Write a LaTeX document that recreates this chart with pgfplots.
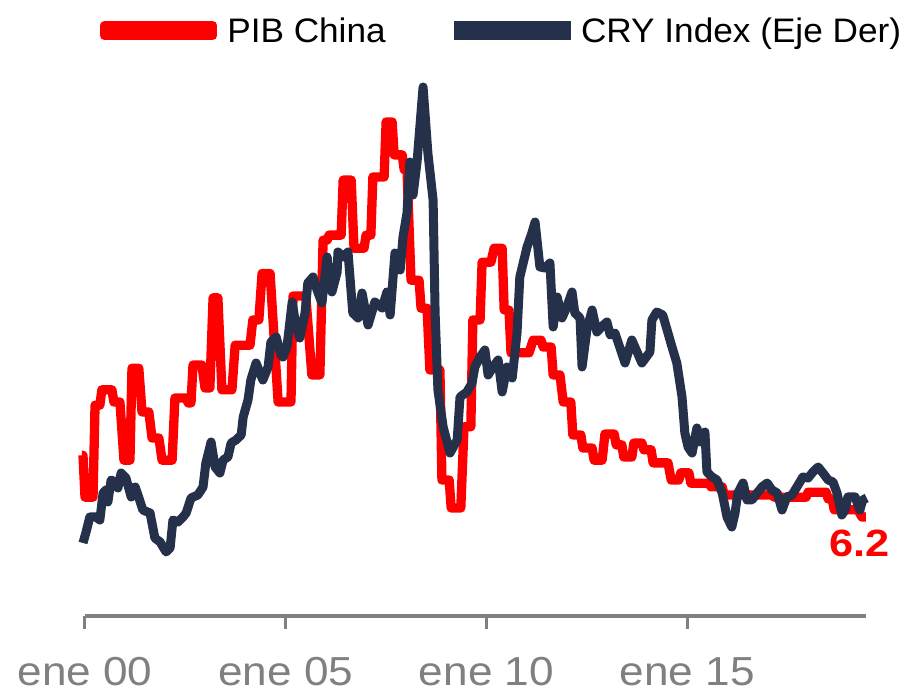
\documentclass[border=0pt]{standalone}
\usepackage{graphicx}
\usepackage{pgfplots}
\pgfplotsset{compat=1.18}
\usepackage{fontspec}
\setmainfont{Liberation Sans}
\definecolor{pibred}{RGB}{255,0,0}
\definecolor{crynavy}{RGB}{37,48,74}
\definecolor{axgray}{RGB}{128,128,128}
\newcommand{\tl}[1]{\scalebox{1.09}[1]{#1}}
\begin{document}
\begin{tikzpicture}
\useasboundingbox (-85pt,-78pt) rectangle (823pt,616pt);
\begin{axis}[
  at={(0pt,0pt)}, anchor=south west,
  scale only axis, width=781pt, height=536pt,
  xmin=2000, xmax=2019.452, ymin=4.005, ymax=15.89,
  clip=false,
  axis x line=bottom, axis y line=none,
  x axis line style={draw=axgray, line width=3.5pt, -},
  xtick={2000,2005,2010,2015},
  xticklabels={\tl{ene 00},\tl{ene 05},\tl{ene 10},\tl{ene 15}},
  xtick style={draw=axgray, line width=3pt},
  major tick length=13pt,
  xtick align=outside,
  xticklabel style={font=\fontsize{40.5}{48}\selectfont, text=axgray, inner sep=0pt, anchor=north, yshift=-28pt},
  ytick=\empty,
  legend columns=2,
  legend cell align=left,
  legend style={draw=none, fill=none, at={(0.0192,1.092)}, anchor=west, inner sep=0pt, outer sep=0pt,
    font=\fontsize{34}{41}\selectfont,
    nodes={inner sep=0pt},
    /tikz/every odd column/.append style={column sep=10pt},
    /tikz/every even column/.append style={column sep=68pt}},
  legend image code/.code={\path (0pt,-5pt) rectangle (108pt,5pt); \draw[#1, line cap=round] (4.65pt,0pt) -- (103.35pt,0pt);},
]
\addplot[pibred, line width=9.3pt, line join=round] coordinates {
(1999.925,7.57) (1999.95,7.57) (2000.00,6.64) (2000.20,6.64) (2000.25,8.68) (2000.37,8.68) (2000.42,9.02) (2000.67,9.02) (2000.72,8.75) (2000.87,8.75) (2000.97,7.46) (2001.12,7.46) (2001.17,9.50) (2001.34,9.50) (2001.42,8.53) (2001.59,8.53) (2001.67,7.95) (2001.84,7.95) (2001.92,7.46) (2002.17,7.46) (2002.24,8.84) (2002.52,8.84) (2002.57,8.73) (2002.64,8.73) (2002.69,9.57) (2002.91,9.57) (2002.99,9.06) (2003.11,9.06) (2003.19,11.06) (2003.31,11.06) (2003.41,9.02) (2003.66,9.02) (2003.74,10.01) (2004.11,10.01) (2004.18,10.57) (2004.33,10.57) (2004.41,11.60) (2004.61,11.60) (2004.81,8.75) (2005.13,8.75) (2005.18,11.10) (2005.50,11.10) (2005.65,9.35) (2005.85,9.35) (2005.93,12.34) (2006.03,12.34) (2006.08,12.45) (2006.38,12.45) (2006.43,13.67) (2006.63,13.67) (2006.70,12.16) (2006.95,12.16) (2007.00,12.45) (2007.12,12.45) (2007.17,13.74) (2007.45,13.74) (2007.50,14.96) (2007.65,14.96) (2007.70,14.23) (2007.90,14.23) (2007.95,13.90) (2008.02,13.90) (2008.12,11.45) (2008.32,11.45) (2008.37,10.83) (2008.52,10.83) (2008.59,9.46) (2008.84,9.46) (2008.89,7.02) (2009.07,7.02) (2009.12,6.40) (2009.36,6.40) (2009.44,8.20) (2009.61,8.20) (2009.66,10.57) (2009.84,10.57) (2009.89,11.85) (2010.11,11.85) (2010.19,12.16) (2010.39,12.16) (2010.44,10.79) (2010.56,10.79) (2010.61,9.84) (2011.06,9.84) (2011.16,10.12) (2011.36,10.12) (2011.41,9.97) (2011.61,9.97) (2011.66,9.35) (2011.83,9.35) (2011.91,8.75) (2012.10,8.75) (2012.15,8.02) (2012.35,8.02) (2012.40,7.73) (2012.63,7.73) (2012.68,7.46) (2012.88,7.46) (2012.95,8.04) (2013.18,8.04) (2013.23,7.80) (2013.37,7.80) (2013.42,7.53) (2013.62,7.53) (2013.67,7.84) (2013.87,7.84) (2013.92,7.69) (2014.10,7.69) (2014.15,7.40) (2014.52,7.40) (2014.60,7.02) (2014.79,7.02) (2014.84,7.18) (2015.04,7.18) (2015.09,6.95) (2015.54,6.95) (2015.59,6.87) (2015.87,6.87) (2015.92,6.69) (2017.11,6.69) (2017.16,6.64) (2017.96,6.64) (2018.01,6.75) (2018.46,6.75) (2018.51,6.60) (2018.61,6.60) (2018.66,6.36) (2019.25,6.36) (2019.35,6.20) (2019.45,6.20)
};
\addlegendentry{\scalebox{1.035}[1]{PIB China}}
\addlegendimage{crynavy, line width=9.3pt}
\addlegendentry{\scalebox{1.035}[1]{CRY Index (Eje Der)}}
\node[text=pibred, font=\fontsize{38}{46}\selectfont\bfseries, inner sep=0pt] at (axis cs:2019.30,5.61) {\scalebox{1.14}[1]{6.2}};
\end{axis}
\begin{axis}[
  at={(0pt,0pt)}, anchor=south west,
  scale only axis, width=781pt, height=536pt,
  xmin=2000, xmax=2019.452, ymin=97.2, ymax=472.4,
  clip=false, hide axis,
]
\addplot[crynavy, line width=9pt, line join=round] coordinates {
(1999.95,148.3) (2000.02,155.3) (2000.12,166.5) (2000.27,166.5) (2000.37,164.4) (2000.45,183.3) (2000.52,185.4) (2000.57,177.0) (2000.65,192.4) (2000.75,191.0) (2000.82,186.8) (2000.90,197.3) (2001.02,193.8) (2001.15,180.5) (2001.25,187.5) (2001.32,181.9) (2001.44,171.4) (2001.62,169.3) (2001.74,151.8) (2001.87,149.0) (2002.02,142.0) (2002.12,144.8) (2002.19,164.4) (2002.32,163.0) (2002.44,166.5) (2002.52,169.3) (2002.64,179.8) (2002.81,181.9) (2002.94,187.5) (2003.01,204.3) (2003.14,219.0) (2003.24,201.5) (2003.36,197.3) (2003.44,206.4) (2003.56,208.5) (2003.64,218.3) (2003.76,220.4) (2003.89,223.9) (2003.94,236.5) (2004.06,248.4) (2004.13,262.4) (2004.26,274.3) (2004.36,267.3) (2004.43,262.4) (2004.56,271.5) (2004.63,289.0) (2004.76,292.5) (2004.88,280.0) (2004.93,278.5) (2005.03,285.5) (2005.16,317.0) (2005.23,304.4) (2005.35,291.8) (2005.48,309.3) (2005.55,330.3) (2005.68,334.5) (2005.78,325.4) (2005.90,316.3) (2006.03,348.5) (2006.15,324.0) (2006.28,338.0) (2006.30,352.0) (2006.43,348.5) (2006.55,352.0) (2006.67,309.3) (2006.80,305.8) (2006.90,323.3) (2007.05,300.9) (2007.22,317.0) (2007.40,312.8) (2007.52,324.0) (2007.60,307.9) (2007.72,351.3) (2007.85,339.4) (2007.92,362.5) (2008.02,379.3) (2008.09,415.0) (2008.17,391.9) (2008.27,415.0) (2008.42,467.5) (2008.54,421.3) (2008.67,388.4) (2008.72,309.3) (2008.79,255.4) (2008.92,229.5) (2009.09,211.3) (2009.27,220.4) (2009.34,250.5) (2009.51,254.0) (2009.64,260.3) (2009.71,271.5) (2009.84,278.5) (2009.96,283.4) (2010.04,265.9) (2010.16,271.5) (2010.29,276.4) (2010.39,254.0) (2010.51,271.5) (2010.64,263.8) (2010.76,295.3) (2010.83,334.5) (2011.01,355.5) (2011.13,365.3) (2011.21,373.0) (2011.33,341.5) (2011.46,340.8) (2011.58,344.3) (2011.66,299.5) (2011.76,320.5) (2011.88,305.8) (2012.00,313.5) (2012.13,324.0) (2012.20,309.3) (2012.33,305.8) (2012.38,271.5) (2012.50,297.4) (2012.63,311.4) (2012.75,296.0) (2012.88,300.0) (2013.00,303.0) (2013.08,293.9) (2013.20,295.3) (2013.45,274.3) (2013.62,290.4) (2013.87,274.3) (2014.07,282.0) (2014.12,304.4) (2014.24,310.0) (2014.39,307.9) (2014.52,295.3) (2014.62,285.5) (2014.74,274.3) (2014.87,250.5) (2014.94,225.3) (2015.02,215.5) (2015.12,211.3) (2015.24,228.8) (2015.32,219.0) (2015.44,226.0) (2015.49,198.0) (2015.62,194.5) (2015.74,192.4) (2015.87,183.3) (2015.99,166.5) (2016.11,159.5) (2016.19,169.3) (2016.26,183.3) (2016.39,190.3) (2016.49,178.4) (2016.61,178.4) (2016.74,183.3) (2016.86,187.5) (2016.99,190.3) (2017.11,185.4) (2017.24,183.3) (2017.36,171.4) (2017.48,180.5) (2017.61,181.9) (2017.73,187.5) (2017.88,194.5) (2018.01,193.8) (2018.13,198.0) (2018.26,201.5) (2018.38,197.3) (2018.51,192.4) (2018.63,191.0) (2018.73,183.3) (2018.85,167.9) (2018.93,171.4) (2019.00,180.5) (2019.18,180.5) (2019.30,171.4) (2019.37,178.4) (2019.47,179.8)
};
\end{axis}
\end{tikzpicture}
\end{document}
